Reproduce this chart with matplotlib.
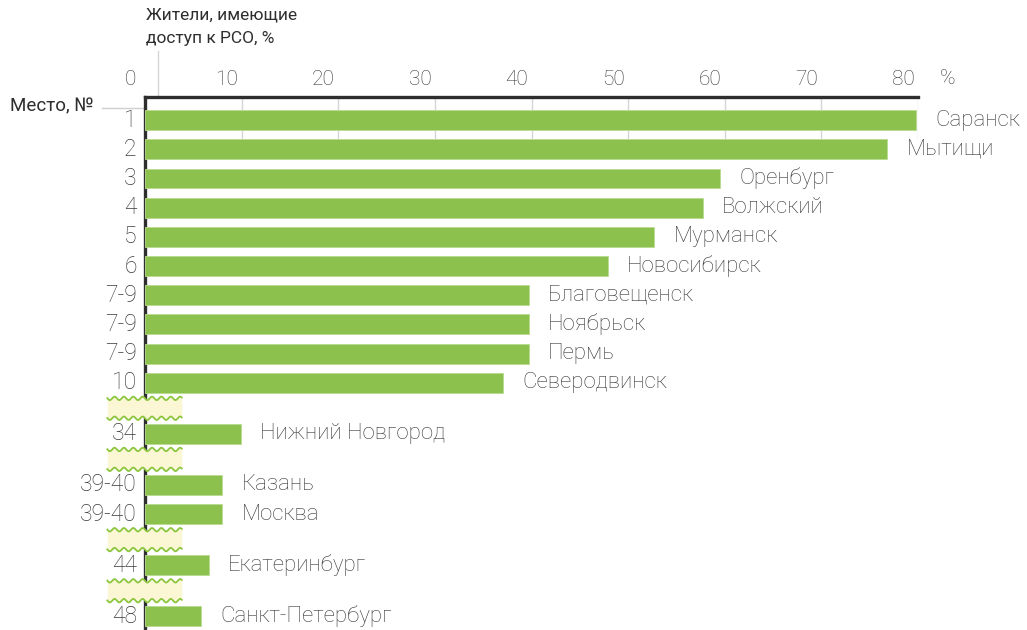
import numpy as np
import matplotlib
matplotlib.use("Agg")
import matplotlib.pyplot as plt
from matplotlib.transforms import ScaledTranslation

plt.rcParams['font.family'] = ['Roboto', 'DejaVu Sans']

ranks = ["1", "2", "3", "4", "5", "6", "7-9", "7-9", "7-9", "10",
         "34", "39-40", "39-40", "44", "48"]
cities = ["Саранск", "Мытищи", "Оренбург", "Волжский", "Мурманск",
          "Новосибирск", "Благовещенск", "Ноябрьск", "Пермь", "Северодвинск",
          "Нижний Новгород", "Казань", "Москва", "Екатеринбург", "Санкт-Петербург"]
values = [79.8, 76.8, 59.5, 57.7, 52.7, 47.9, 39.7, 39.7, 39.7, 37.0,
          9.9, 8.0, 8.0, 6.6, 5.8]
# rows after which the ranking skips (wavy break marker)
breaks_after = [9, 10, 12, 13]
x_ticks = [0, 10, 20, 30, 40, 50, 60, 70, 80]

GREEN = "#8bc14c"
TEXT = "#3a3a3a"

# row positions, with a bigger step across the breaks
y = []
pos = 0.0
for i in range(len(values)):
    y.append(pos)
    pos += 1.75 if i in breaks_after else 1.0
break_y = [y[i] + 0.875 for i in breaks_after]

fig = plt.figure(figsize=(10.27, 6.30), dpi=100)
ax = fig.add_axes([145 / 1027, 0.0, (918 - 145) / 1027, 1 - 97 / 630])

bar_h = 0.68
ax.barh(y, values, height=bar_h, color=GREEN, edgecolor="#b9dc8f", linewidth=0.6, zorder=3)

ax.set_xlim(0, 80)
ax.set_ylim(17.47, -0.79)

# short gridlines only around the top rows
ax.vlines(x_ticks[1:], -0.79, y[1] - bar_h / 2, color="#d6d6d6", lw=1.0, zorder=1)

for spine in ["right", "bottom"]:
    ax.spines[spine].set_visible(False)
for spine in ["top", "left"]:
    ax.spines[spine].set_linewidth(2.4)
    ax.spines[spine].set_color("#2e2e2e")

ax.xaxis.tick_top()
ax.set_xticks(x_ticks)
ax.set_xticklabels([str(t) for t in x_ticks])
ax.tick_params(axis="x", length=0, pad=6, labelsize=15, labelcolor=TEXT)
for lab in ax.get_xticklabels():
    lab.set_fontweight("light")
    lab.set_transform(lab.get_transform() + ScaledTranslation(-0.15, 0, fig.dpi_scale_trans))
ax.set_yticks([])

# rank and city labels
for yi, r, c, v in zip(y, ranks, cities, values):
    ax.annotate(r, (0, yi), xytext=(-6, 0), textcoords="offset points",
                ha="right", va="center", fontsize=16.5, color=TEXT,
                fontweight="light", annotation_clip=False)
    ax.annotate(c, (v, yi), xytext=(14, 0), textcoords="offset points",
                ha="left", va="center", fontsize=16, color=TEXT,
                fontweight="light", annotation_clip=False)

# wavy break markers
xw = np.linspace(-3.9, 3.8, 200)
for yb in break_y:
    top = yb - 0.34 + 0.06 * np.sin(2 * np.pi * xw / 0.97)
    bot = yb + 0.34 + 0.06 * np.sin(2 * np.pi * xw / 0.97)
    ax.fill_between(xw, top, bot, color="#fbf7d4", lw=0, zorder=5, clip_on=False)
    ax.plot(xw, top, color="#8cc63f", lw=1.3, zorder=6, clip_on=False)
    ax.plot(xw, bot, color="#8cc63f", lw=1.3, zorder=6, clip_on=False)

# thin grey guide lines
ax.plot([1.3, 1.3], [-0.79, -2.35], color="#d6d6d6", lw=1.0, clip_on=False, zorder=1)
ax.plot([-4.5, 0], [-0.41, -0.41], color="#cfcfcf", lw=1.0, clip_on=False, zorder=1)

fig.text(146 / 1027, 1 - 8 / 630, "Жители, имеющие\nдоступ к РСО, %",
         ha="left", va="top", fontsize=12.5, color="#2e2e2e", linespacing=1.7)
fig.text(93 / 1027, 1 - 106 / 630, "Место, №", ha="right", va="center",
         fontsize=13.5, color="#2e2e2e")
fig.text(948 / 1027, 1 - 78 / 630, "%", ha="center", va="center",
         fontsize=15, color=TEXT, fontweight="light")

fig.savefig("out.png", dpi=100)
